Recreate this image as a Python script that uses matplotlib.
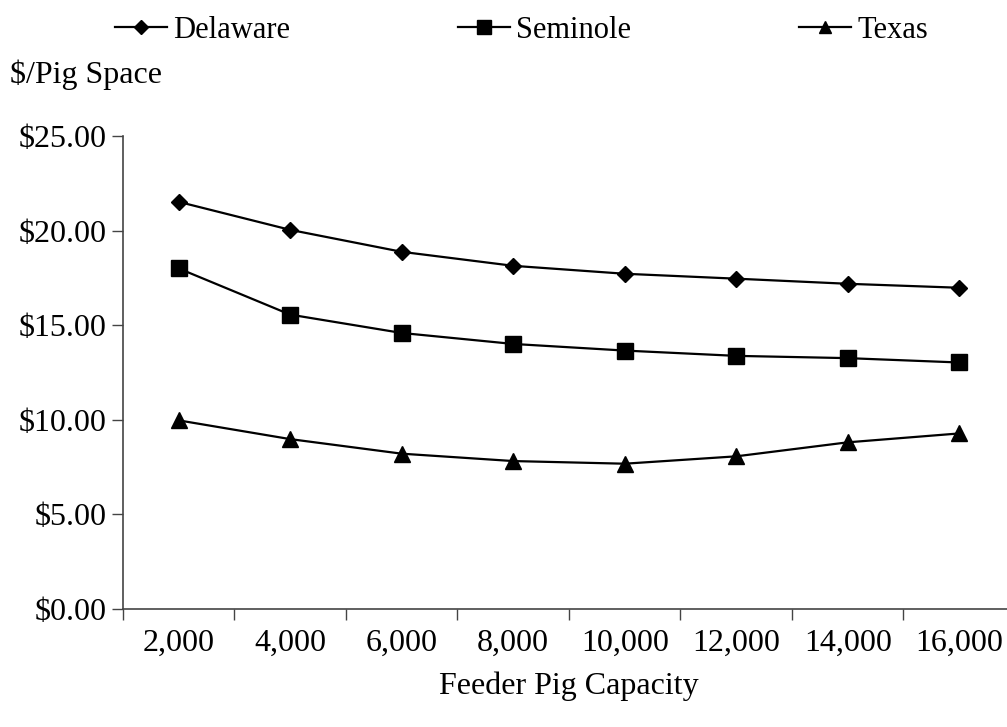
import matplotlib
matplotlib.use('Agg')
from matplotlib import pyplot as plt
import numpy as np

# data
capacity = ['2,000', '4,000', '6,000', '8,000', '10,000', '12,000', '14,000', '16,000']
delaware = [21.52, 20.04, 18.88, 18.14, 17.72, 17.46, 17.19, 16.98]
seminole = [18.00, 15.56, 14.59, 14.01, 13.66, 13.38, 13.26, 13.03]
texas = [9.97, 8.98, 8.21, 7.82, 7.68, 8.07, 8.81, 9.28]
yticks = [0, 5, 10, 15, 20, 25]

plt.rcParams['font.family'] = ['Liberation Serif', 'DejaVu Serif']

fig = plt.figure(figsize=(10.07, 7.27), dpi=100)
ax = fig.add_axes([0.1221, 0.1623, 0.8858, 0.6506])

x = np.arange(len(capacity))
ax.plot(x, delaware, color='black', lw=1.6, marker='D', ms=8.5,
        label='Delaware')
ax.plot(x, seminole, color='black', lw=1.6, marker='s', ms=12,
        label='Seminole')
ax.plot(x, texas, color='black', lw=1.6, marker='^', ms=11,
        label='Texas')

ax.set_xlim(-0.5, len(capacity) - 0.5)
ax.set_ylim(0, 25)

# categories between the tick marks
ax.set_xticks(np.arange(len(capacity) + 1) - 0.5)
ax.set_xticklabels([])
ax.set_xticks(x, minor=True)
ax.set_xticklabels(capacity, minor=True)
ax.tick_params(axis='x', which='minor', length=0, pad=14, labelsize=23)
ax.tick_params(axis='x', which='major', length=8, width=1, color='#444444')

ax.set_yticks(yticks)
ax.set_yticklabels([r'\$%.2f' % v for v in yticks])
ax.tick_params(axis='y', length=8, width=1, color='#444444', pad=4,
               labelsize=23)

for side in ['top', 'right']:
    ax.spines[side].set_visible(False)
for side in ['left', 'bottom']:
    ax.spines[side].set_color('#444444')
    ax.spines[side].set_linewidth(1.2)

ax.set_xlabel('Feeder Pig Capacity', fontsize=23, labelpad=10)
fig.text(0.01, 0.897, r'\$/Pig Space', fontsize=23, ha='left', va='center')

fig.legend(loc='center', bbox_to_anchor=(0.518, 0.958), ncol=3,
           frameon=False, fontsize=22, numpoints=1, handlelength=1.7,
           handletextpad=0.2, columnspacing=5.5, markerscale=0.8)

plt.savefig('out.png', dpi=100)
